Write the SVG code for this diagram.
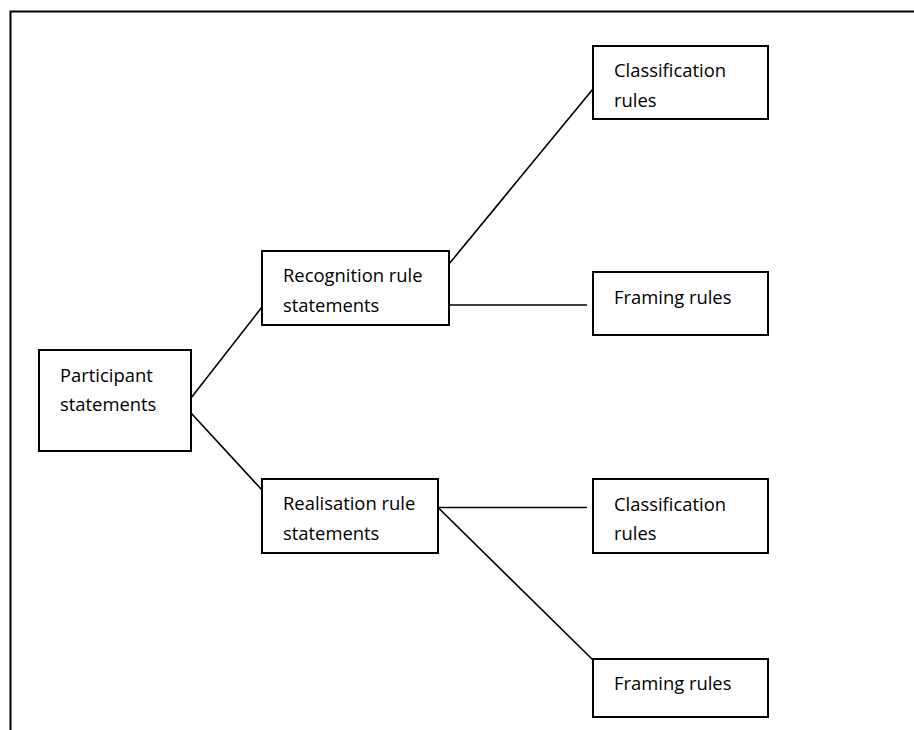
<svg xmlns="http://www.w3.org/2000/svg" width="914" height="730" viewBox="0 0 914 730">
<style>
.box{fill:#fff;stroke:#000;stroke-width:2}
.ln{stroke:#000;stroke-width:1.6;fill:none}
text{font-family:"Open Sans","Liberation Sans",sans-serif;font-size:18.4px;fill:#000}
</style>
<rect width="914" height="730" fill="#fff"/>
<g id="frame">
<path d="M10.5 730 V11.5 H914" fill="none" stroke="#000" stroke-width="2"/>
</g>
<g id="connectors">
<line class="ln" x1="191" y1="398" x2="262" y2="307"/>
<line class="ln" x1="191" y1="413" x2="262" y2="490"/>
<line class="ln" x1="449" y1="264" x2="593" y2="89"/>
<line class="ln" x1="449" y1="305" x2="587" y2="305"/>
<line class="ln" x1="438" y1="507.5" x2="587" y2="507.5"/>
<line class="ln" x1="438" y1="507.5" x2="593" y2="660"/>
</g>
<g id="participant">
<rect class="box" x="39" y="350" width="152" height="101"/>
<text x="60" y="382">Participant</text>
<text x="60" y="411">statements</text>
</g>
<g id="recognition">
<rect class="box" x="262" y="251" width="187" height="74"/>
<text x="283" y="282">Recognition rule</text>
<text x="283" y="312">statements</text>
</g>
<g id="realisation">
<rect class="box" x="262" y="479" width="176" height="74"/>
<text x="283" y="510">Realisation rule</text>
<text x="283" y="540">statements</text>
</g>
<g id="classification1">
<rect class="box" x="593" y="46" width="175" height="73"/>
<text x="614" y="77">Classification</text>
<text x="614" y="107">rules</text>
</g>
<g id="framing1">
<rect class="box" x="593" y="272" width="175" height="63"/>
<text x="614" y="304">Framing rules</text>
</g>
<g id="classification2">
<rect class="box" x="593" y="479" width="175" height="74"/>
<text x="614" y="511">Classification</text>
<text x="614" y="540">rules</text>
</g>
<g id="framing2">
<rect class="box" x="593" y="659" width="175" height="58"/>
<text x="614" y="690">Framing rules</text>
</g>
</svg>
